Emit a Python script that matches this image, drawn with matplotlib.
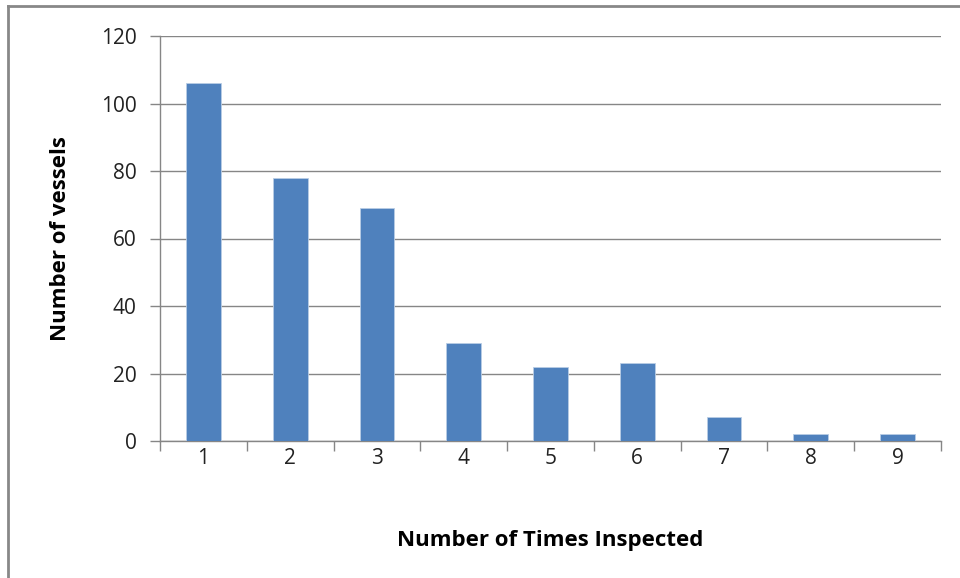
import matplotlib.pyplot as plt
from matplotlib.lines import Line2D

times = [1, 2, 3, 4, 5, 6, 7, 8, 9]
vessels = [106, 78, 69, 29, 22, 23, 7, 2, 2]
yticks = [0, 20, 40, 60, 80, 100, 120]

plt.rcParams['font.family'] = ['Open Sans', 'DejaVu Sans']

fig = plt.figure(figsize=(9.6, 5.78), dpi=100)
W, H = 960, 578
ax = fig.add_axes([160 / W, 1 - 441 / H, (941 - 160) / W, (441 - 36) / H])

grid_col = '#868686'
ax.bar(times, vessels, width=0.4, color='#4f81bd', edgecolor='#b9cde5', linewidth=0.6, zorder=3)

ax.set_xlim(0.5, 9.5)
ax.set_ylim(0, 120)
ax.set_yticks(yticks)
ax.set_xticks(times)
ax.set_xticks([t + 0.5 for t in [0] + times], minor=True)
ax.yaxis.grid(True, color=grid_col, linewidth=1.0, zorder=0)

for s in ['top', 'right']:
    ax.spines[s].set_visible(False)
for s in ['left', 'bottom']:
    ax.spines[s].set_color(grid_col)
    ax.spines[s].set_linewidth(1.0)

ax.tick_params(axis='y', length=7, width=1, color=grid_col, labelsize=15, labelcolor='#222222', pad=10)
ax.tick_params(axis='x', which='major', length=0, labelsize=15, labelcolor='#222222', pad=5)
ax.tick_params(axis='x', which='minor', length=7, width=1, color=grid_col)

ax.set_xlabel('Number of Times Inspected', fontsize=16, fontweight='bold', labelpad=44)
ax.set_ylabel('Number of vessels', fontsize=16, fontweight='bold', labelpad=21)

# outer chart frame (top and left edges visible)
fig.add_artist(Line2D([8 / W, 1], [1 - 6 / H, 1 - 6 / H], color='#888888', linewidth=2, transform=fig.transFigure))
fig.add_artist(Line2D([8 / W, 8 / W], [0, 1 - 6 / H], color='#888888', linewidth=2, transform=fig.transFigure))

fig.savefig('out.png', dpi=100)
